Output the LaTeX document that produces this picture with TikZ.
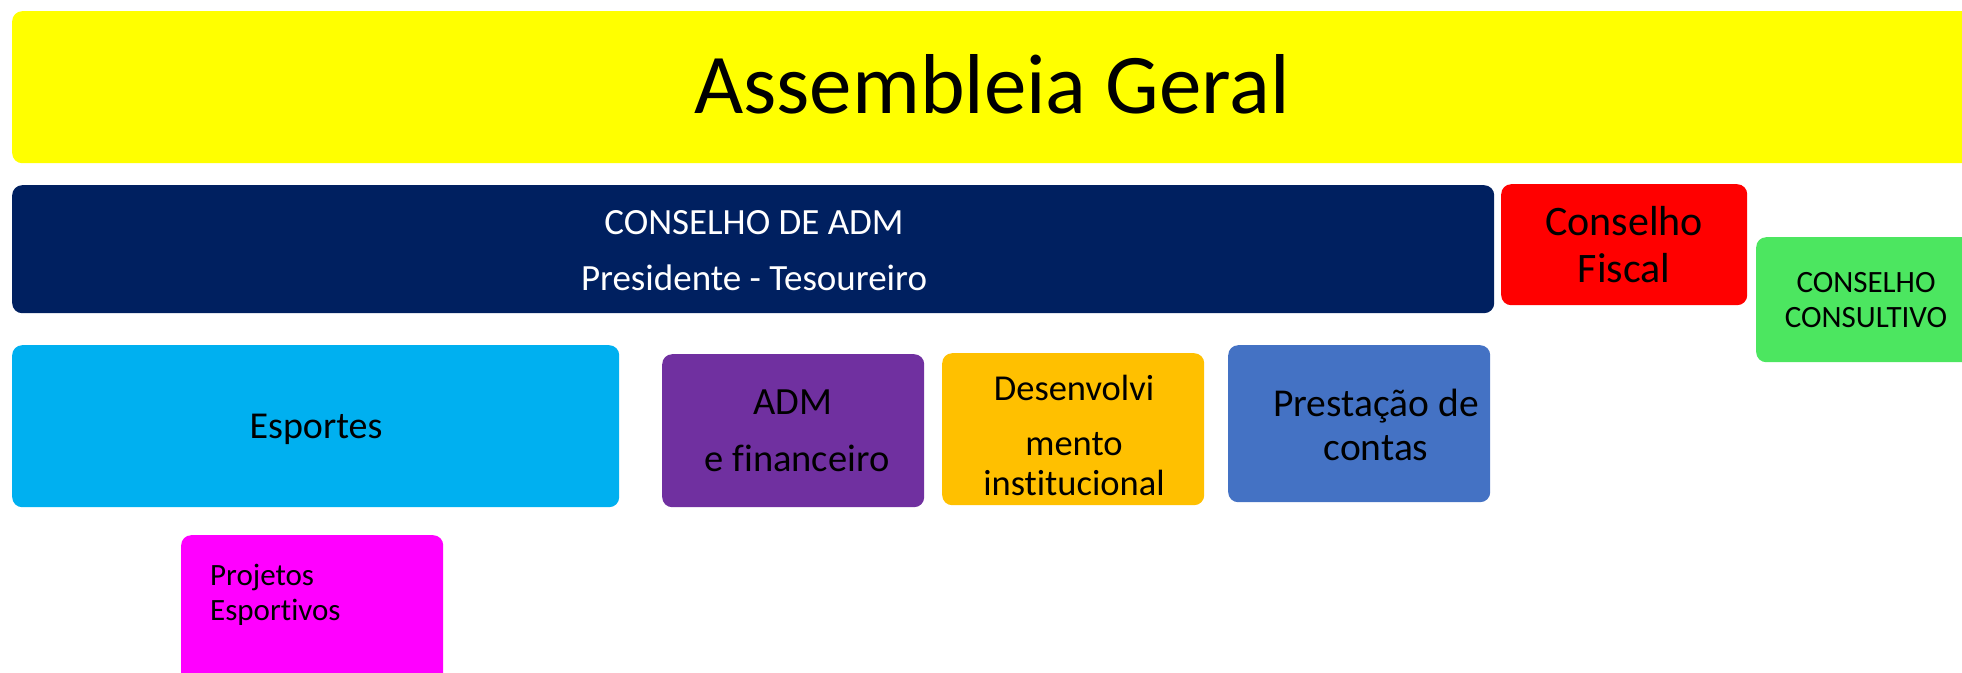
\documentclass[tikz,border=0pt]{standalone}
\usepackage{fontspec}
\setmainfont[Ligatures=NoCommon]{Carlito}
\definecolor{cyellow}{HTML}{FFFF00}
\definecolor{cnavy}{HTML}{002060}
\definecolor{cred}{HTML}{FF0000}
\definecolor{cgreen}{HTML}{4CE660}
\definecolor{ccyan}{HTML}{00B0F0}
\definecolor{cpurple}{HTML}{7030A0}
\definecolor{corange}{HTML}{FFC000}
\definecolor{cblue}{HTML}{4472C4}
\definecolor{cmagenta}{HTML}{FF00FF}
\tikzset{
  box/.style={draw=none, rounded corners=10pt, inner sep=0pt, anchor=north west},
  txt/.style={anchor=base, inner sep=0pt, font=\fontsize{#1}{#1}\selectfont},
  ltxt/.style={anchor=base west, inner sep=0pt, font=\fontsize{#1}{#1}\selectfont}
}
\begin{document}
\begin{tikzpicture}[x=1pt,y=-1pt]
\useasboundingbox (0,0) rectangle (1962,672);
\clip (0,0) rectangle (1962,672);
% boxes
\node[box, fill=cyellow, minimum width=2000pt, minimum height=152pt] (assembleia) at (12,11) {};
\node[box, fill=cnavy, minimum width=1482pt, minimum height=128pt] (conselhoadm) at (12,185) {};
\node[box, fill=cred, minimum width=246pt, minimum height=121pt] (fiscal) at (1501,184) {};
\node[box, fill=cgreen, minimum width=260pt, minimum height=125pt] (consultivo) at (1756,237) {};
\node[box, fill=ccyan, minimum width=607pt, minimum height=162pt] (esportes) at (12,345) {};
\node[box, fill=cpurple, minimum width=262pt, minimum height=153pt] (admfin) at (662,354) {};
\node[box, fill=corange, minimum width=262pt, minimum height=152pt] (desenv) at (942,353) {};
\node[box, fill=cblue, minimum width=262pt, minimum height=157pt] (prestacao) at (1228,345) {};
\node[box, fill=cmagenta, minimum width=262pt, minimum height=180pt] (projetos) at (181,535) {};
% texts
\node[txt=85] (tassembleia) at (992,113) {Assembleia Geral};
\node[txt=37, text=white] (tconselho1) at (754,234) {CONSELHO DE ADM};
\node[txt=37, text=white] (tconselho2) at (754,290) {Presidente - Tesoureiro};
\node[txt=42] (tfiscal1) at (1624,235) {Conselho};
\node[txt=42] (tfiscal2) at (1624,282) {Fiscal};
\node[txt=31] (tconsult1) at (1866,292) {CONSELHO};
\node[txt=31] (tconsult2) at (1866,327) {CONSULTIVO};
\node[txt=38] (tesportes) at (316,438) {Esportes};
\node[txt=38.5] (tadm1) at (792.5,414) {ADM};
\node[txt=38.5] (tadm2) at (797,471) {e financeiro};
\node[txt=36.5] (tdes1) at (1074,400) {Desenvolvi};
\node[txt=36.5] (tdes2) at (1074,455) {mento};
\node[txt=36.5] (tdes3) at (1074,495) {institucional};
\node[txt=39.5] (tprest1) at (1376,416) {Prestação de};
\node[txt=39.5] (tprest2) at (1376,460) {contas};
\node[ltxt=31] (tproj1) at (210,585) {Projetos};
\node[ltxt=31] (tproj2) at (210,620) {Esportivos};
\end{tikzpicture}
\end{document}
